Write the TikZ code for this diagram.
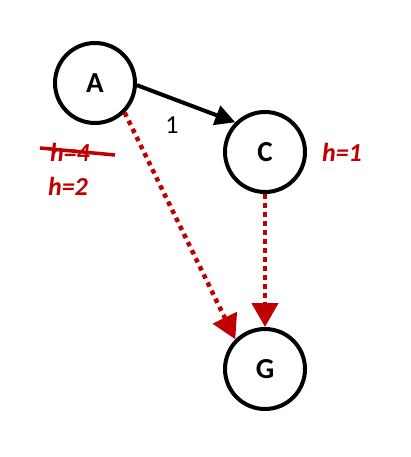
\documentclass[tikz,border=0pt]{standalone}
\usepackage{fontspec}
\setmainfont{Carlito}
\usetikzlibrary{arrows.meta}
\definecolor{hred}{RGB}{192,0,0}
\tikzset{
  state/.style={circle, draw=black, line width=4pt, minimum size=80pt, inner sep=0pt, font=\fontsize{29}{31}\selectfont\bfseries},
  edgeblack/.style={line width=4pt, -{Triangle[length=20pt,width=20pt]}},
  heur/.style={line width=4.5pt, hred, dash pattern=on 4.5pt off 4.5pt, -{Triangle[length=24pt,width=26pt]}},
  hlabel/.style={text=hred, font=\fontsize{26}{28}\selectfont\bfseries\itshape},
  wlabel/.style={font=\fontsize{26}{28}\selectfont}
}
\begin{document}
\begin{tikzpicture}[x=1pt,y=-1pt]
\useasboundingbox (0,0) rectangle (410,457);
\node[state] (A) at (95,83) {A};
\node[state] (C) at (265,152) {C};
\node[state] (G) at (265,369) {G};
\draw[edgeblack] (A.-3) -- (C.135);
\draw[heur] (A.-45) -- (G.135);
\draw[heur] (C.south) -- (G.north);
\node[wlabel] (w1) at (172,125) {1};
\node[hlabel] (h4) at (70,152) {h=4};
\coordinate (s1) at (40,148);
\coordinate (s2) at (115,155);
\draw[hred, line width=3.5pt] (s1) -- (s2);
\node[hlabel] (h2) at (68,186) {h=2};
\node[hlabel] (h1) at (342,152) {h=1};
\end{tikzpicture}
\end{document}
